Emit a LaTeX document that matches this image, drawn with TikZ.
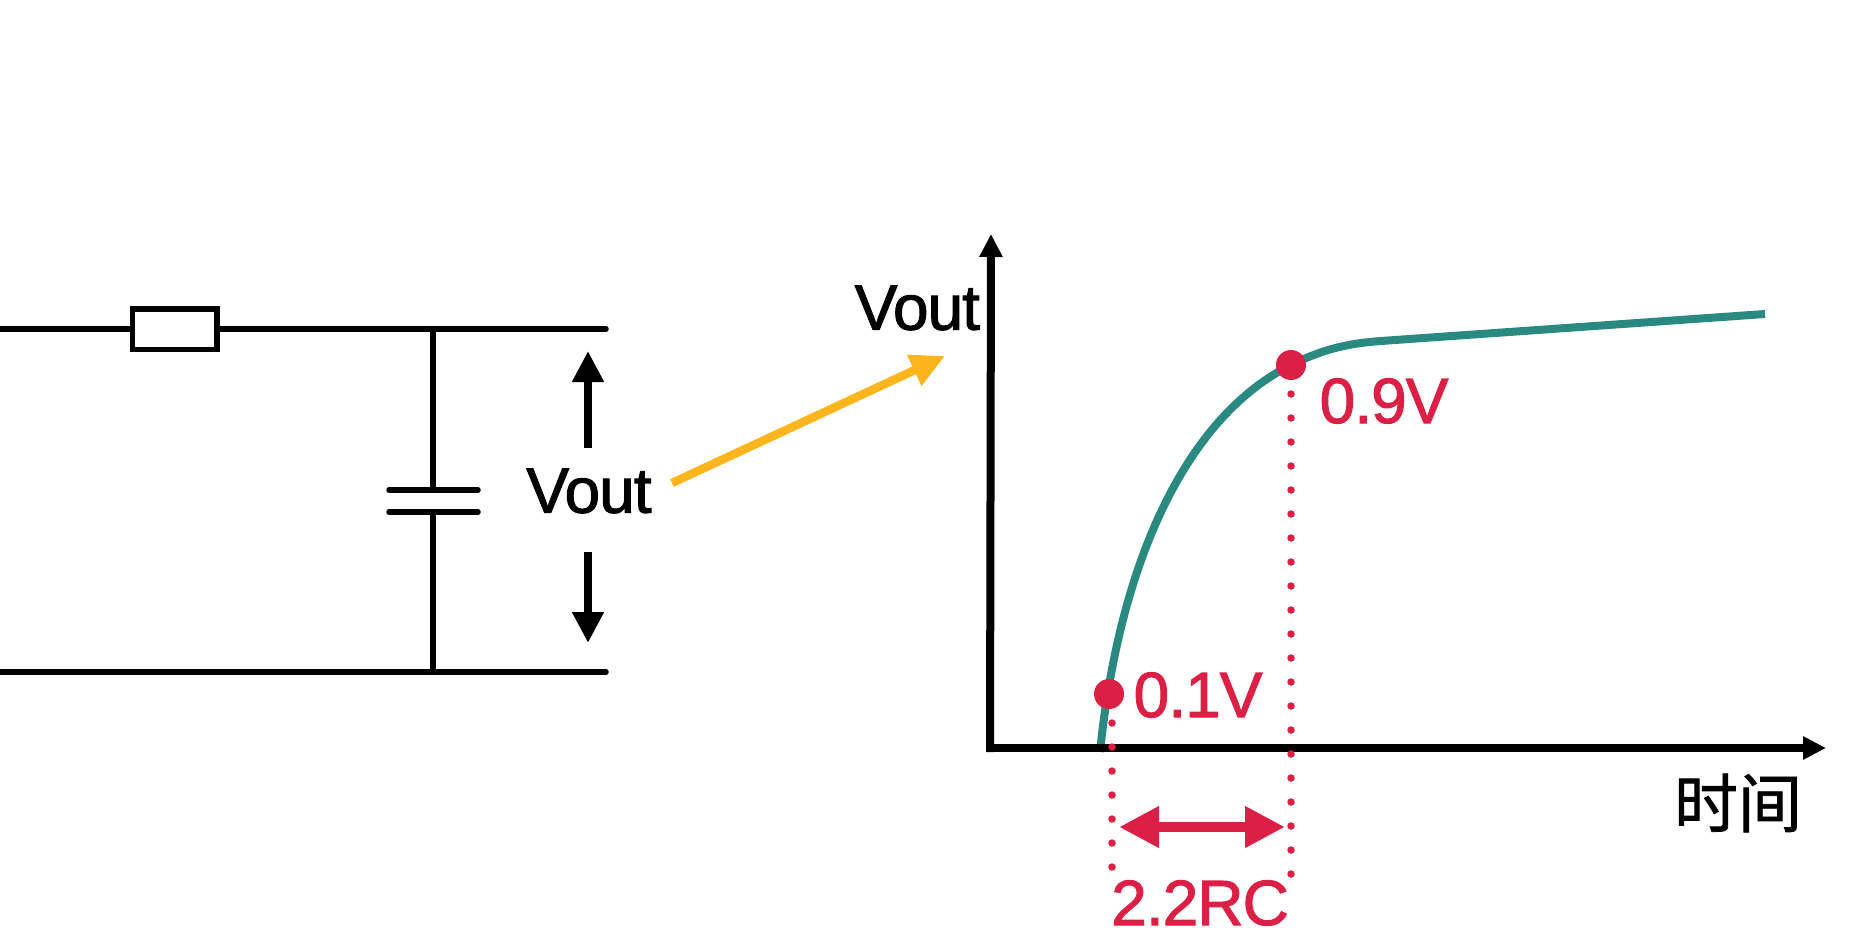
\documentclass[tikz,border=0pt]{standalone}
\usepackage{fontspec}
\setmainfont[FakeBold=1.6,LetterSpace=-1.5]{Liberation Sans}
\newfontfamily\cjkfont[FakeBold=1.2]{Noto Sans CJK SC}
\usetikzlibrary{arrows.meta}
\definecolor{tealc}{HTML}{2A8A82}
\definecolor{redc}{HTML}{DC1F44}
\definecolor{yellowc}{HTML}{FDB51E}
\tikzset{
  wire/.style={line width=5.5pt,line cap=round,black},
  bigarrow/.style={line width=8pt,black,-{Triangle[length=31pt,width=30pt]}},
  axisline/.style={line width=8pt,black,-{Triangle[length=23pt,width=22pt]}},
  dotline/.style={redc,line width=7.5pt,line cap=round,dash pattern=on 0pt off 24pt},
  reddot/.style={circle,fill=redc,minimum size=30pt,inner sep=0pt,outer sep=0pt},
  lab/.style={font=\fontsize{64}{64}\selectfont,inner sep=0pt,outer sep=0pt},
  redlab/.style={lab,text=redc},
  resbox/.style={draw,line width=5.5pt,rectangle,minimum width=84.5pt,minimum height=40.5pt,inner sep=0pt,outer sep=2.5pt}
}
\begin{document}
\begin{tikzpicture}[x=1pt,y=-1pt]
\useasboundingbox (0,0) rectangle (1859,936);
% circuit
\node[resbox] (res) at (174.5,329) {};
\coordinate (tl) at (0,329);
\coordinate (tj) at (433,329);
\coordinate (tr) at (606,329);
\coordinate (bl) at (0,672);
\coordinate (bj) at (433,672);
\coordinate (br) at (606,672);
\coordinate (p1l) at (389,490);
\coordinate (p1r) at (478,490);
\coordinate (p1) at (433,490);
\coordinate (p2l) at (389,512);
\coordinate (p2r) at (478,512);
\coordinate (p2) at (433,512);
\draw[wire,line cap=butt] (tl) -- (res.west);
\draw[wire] (res.east) -- (tr);
\draw[wire] (bl) -- (br);
\draw[wire,line cap=butt] (tj) -- (p1);
\draw[wire,line cap=butt] (p2) -- (bj);
\draw[wire] (p1l) -- (p1r);
\draw[wire] (p2l) -- (p2r);
\node[lab] (v1) at (589,491) {Vout};
\coordinate (a1t) at (588,448);
\coordinate (a1h) at (588,351);
\coordinate (a2t) at (588,552);
\coordinate (a2h) at (588,643);
\draw[bigarrow] (a1t) -- (a1h);
\draw[bigarrow] (a2t) -- (a2h);
% yellow arrow
\coordinate (yt) at (672,483);
\coordinate (yh) at (945,356);
\draw[line width=8.5pt,yellowc,-{Triangle[length=34pt,width=32pt]}] (yt) -- (yh);
% curve
\coordinate (c0) at (1100,752);
\coordinate (c1) at (1291,365);
\coordinate (c2) at (1381,341);
\coordinate (c3) at (1765,314);
\draw[tealc,line width=8pt] (c0) .. controls (1120,555) and (1190,415) .. (c1)
  .. controls (1320,350.6) and (1345,343.5) .. (c2) -- (c3);
% axes
\coordinate (o) at (990,748);
\coordinate (yax) at (991,234);
\coordinate (xax) at (1826,748);
\draw[axisline] (o) ++(0,4) -- (yax);
\draw[axisline] (o) ++(-4,0) -- (xax);
\node[lab,anchor=east] (v2) at (980,308) {Vout};
\node[lab,font=\cjkfont\fontsize{64}{64}\selectfont] (tm) at (1738,803) {时间};
% dotted guides
\coordinate (d1a) at (1112,723);
\coordinate (d1b) at (1112,870);
\coordinate (d2a) at (1291,394);
\coordinate (d2b) at (1291,876);
\draw[dotline] (d1a) -- (d1b);
\draw[dotline] (d2a) -- (d2b);
\node[reddot] (n1) at (1109,694) {};
\node[reddot] (n2) at (1291,365) {};
\node[redlab] (l1) at (1198,695) {0.1V};
\node[redlab] (l2) at (1384,401) {0.9V};
% span arrow
\coordinate (sa) at (1119,827);
\coordinate (sb) at (1285,827);
\draw[redc,line width=10pt,{Triangle[length=40pt,width=39pt]}-{Triangle[length=40pt,width=39pt]}] (sa) -- (sb);
\node[redlab] (l3) at (1200,903) {2.2RC};
\end{tikzpicture}
\end{document}
